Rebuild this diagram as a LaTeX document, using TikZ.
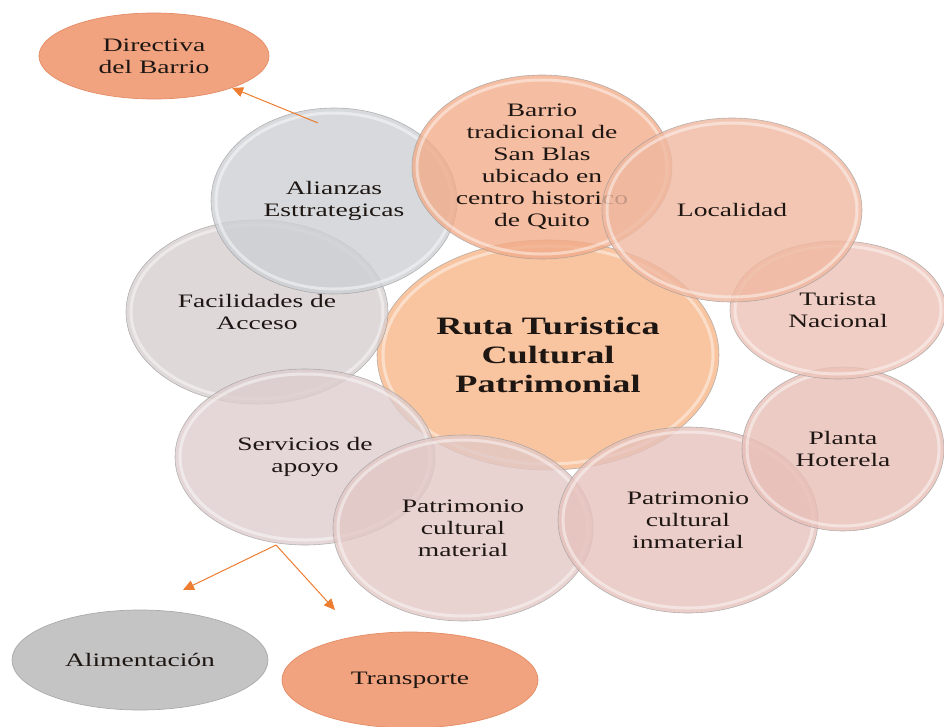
\documentclass[tikz,border=0pt]{standalone}
\usepackage{fontspec}
\setmainfont[FakeStretch=1.45]{Liberation Serif}
\usetikzlibrary{shapes.geometric,arrows.meta}
\definecolor{txt}{RGB}{30,22,18}
\definecolor{cRuta}{RGB}{249,192,152}
\definecolor{cBar}{RGB}{242,172,138}
\definecolor{cLoc}{RGB}{240,184,160}
\definecolor{cTur}{RGB}{236,194,182}
\definecolor{cPla}{RGB}{232,190,182}
\definecolor{cInm}{RGB}{230,194,188}
\definecolor{cMat}{RGB}{226,200,198}
\definecolor{cSer}{RGB}{222,205,205}
\definecolor{cFac}{RGB}{215,206,207}
\definecolor{cAli}{RGB}{205,208,212}
\definecolor{cOra}{RGB}{241,163,128}
\definecolor{cOraE}{RGB}{228,140,100}
\definecolor{cGry}{RGB}{196,196,196}
\definecolor{cGryE}{RGB}{170,170,170}
\definecolor{arrc}{RGB}{237,125,49}
\tikzset{
  bub/.style={ellipse, inner sep=0pt, fill opacity=0.8, text opacity=1,
    draw=black!40, draw opacity=0.7, line width=0.6pt, align=center,
    font=\fontsize{19}{22}\selectfont, text=txt},
  gloss/.style={white, line width=3pt, opacity=0.45},
  flat/.style={ellipse, inner sep=0pt, align=center, line width=0.7pt,
    font=\fontsize{19}{22}\selectfont, text=txt},
  arr/.style={draw=arrc, line width=1pt, -{Triangle[length=11pt,width=10pt]}},
}
% name, cx, cy, rx, ry, colour, text
\newcommand\mybub[7]{%
  \node[bub, fill=#6, minimum width=#4*2pt, minimum height=#5*2pt] (#1) at (#2,#3) {#7};
  \draw[gloss] (#1.center) ellipse [x radius=#4pt-5pt, y radius=#5pt-5pt];
}
\begin{document}
\begin{tikzpicture}[x=1pt,y=-1pt]
\useasboundingbox (0,0) rectangle (944,726);
% centre
\node[bub, fill=cRuta, fill opacity=0.92, minimum width=342pt, minimum height=230pt,
  font=\fontsize{25}{29}\selectfont\bfseries] (ruta) at (548,355)
  {Ruta Turistica\\Cultural\\Patrimonial};
\draw[gloss] (ruta.center) ellipse [x radius=165pt, y radius=109pt];
% ring
\mybub{fac}{257}{312}{131}{92}{cFac}{Facilidades de\\Acceso}
\mybub{ali}{334}{201}{123}{93}{cAli}{Alianzas\\Esttrategicas}
\mybub{ser}{305}{457}{130}{88}{cSer}{Servicios de\\apoyo}
\mybub{mat}{463}{528}{130}{93}{cMat}{Patrimonio\\cultural\\material}
\mybub{inm}{688}{520}{130}{93}{cInm}{Patrimonio\\cultural\\inmaterial}
\mybub{pla}{843}{449}{101}{82}{cPla}{Planta\\Hoterela}
\mybub{tur}{838}{310}{108}{69}{cTur}{Turista\\Nacional}
\mybub{bar}{542}{167}{130}{92}{cBar}{Barrio\\tradicional de\\San Blas\\ubicado en\\centro historico\\de Quito}
\mybub{loc}{732}{210}{130}{92}{cLoc}{Localidad}
% outer ellipses
\node[flat, fill=cOra, draw=cOraE, minimum width=230pt, minimum height=86pt] (dir) at (154,56) {Directiva\\del Barrio};
\node[flat, fill=cGry, draw=cGryE, minimum width=256pt, minimum height=100pt] (ali2) at (140,660) {Alimentación};
\node[flat, fill=cOra, draw=cOraE, minimum width=256pt, minimum height=96pt] (tra) at (410,680) {Transporte};
% connectors
\coordinate (a1) at (318,123);
\draw[arr] (a1) -- (dir);
\coordinate (s0) at (276,545);
\coordinate (s1) at (183,590);
\coordinate (s2) at (335,610);
\draw[arr] (s0) -- (s1);
\draw[arr] (s0) -- (s2);
\end{tikzpicture}
\end{document}
